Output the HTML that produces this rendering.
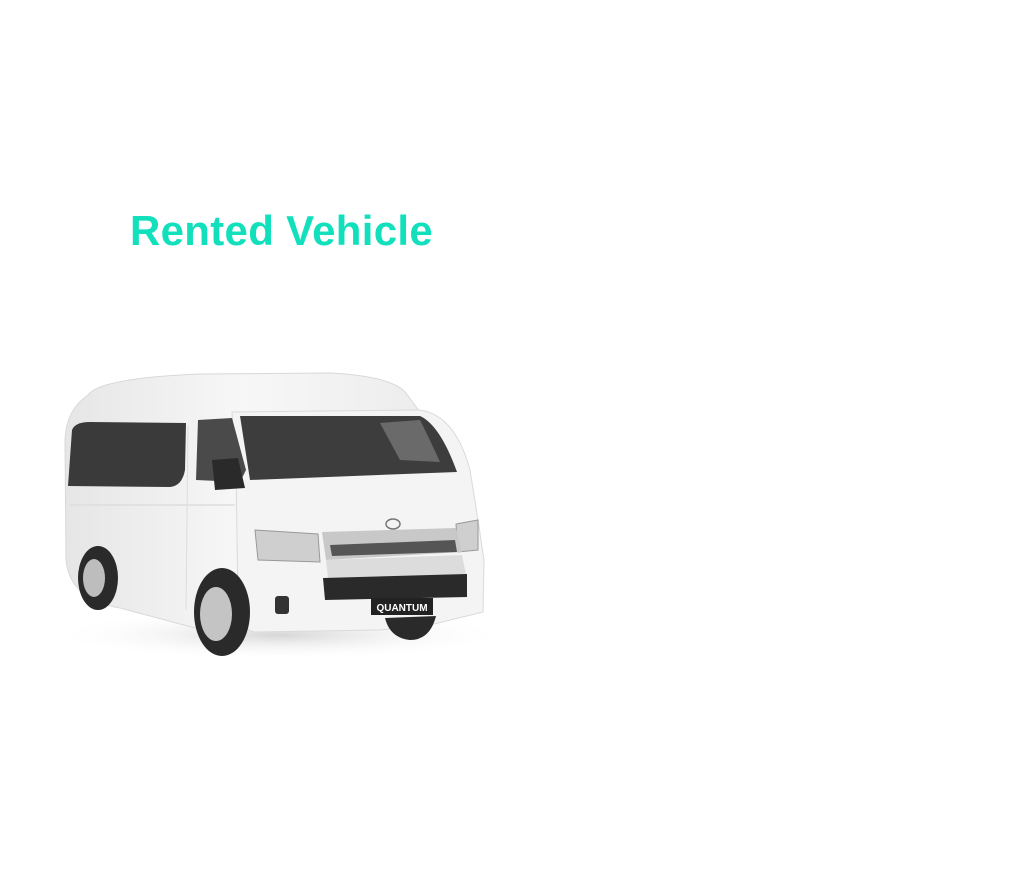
<!DOCTYPE html>
<html><head><meta charset="utf-8"><style>
html,body{margin:0;padding:0;background:#fff;width:1024px;height:881px;overflow:hidden;position:relative}
.t{position:absolute;left:130px;top:207px;font:bold 42px "Liberation Sans",sans-serif;color:#12e0bc;white-space:nowrap;letter-spacing:0.3px}
svg{position:absolute;left:0;top:0}
</style></head><body>
<div class="t">Rented Vehicle</div>
<svg width="1024" height="881" viewBox="0 0 1024 881">
<defs>
<linearGradient id="bd" x1="0" y1="0" x2="1" y2="0"><stop offset="0" stop-color="#e6e6e6"/><stop offset="0.5" stop-color="#f7f7f7"/><stop offset="1" stop-color="#ededed"/></linearGradient>
<radialGradient id="sh" cx="0.5" cy="0.5" r="0.5"><stop offset="0" stop-color="#bbb" stop-opacity="0.6"/><stop offset="1" stop-color="#fff" stop-opacity="0"/></radialGradient>
</defs>
<ellipse cx="280" cy="635" rx="230" ry="25" fill="url(#sh)"/>
<path d="M88,395 Q100,378 200,374 L330,373 Q390,376 405,392 L420,412 L250,420 L240,640 L120,608 Q70,600 66,560 L65,440 Q66,410 88,395 Z" fill="url(#bd)" stroke="#d8d8d8"/>
<path d="M232,412 L420,410 Q455,415 470,470 L478,520 L484,560 L483,612 L430,625 L380,630 L255,632 Q240,630 238,600 L236,470 Z" fill="#f4f4f4" stroke="#dadada"/>
<path d="M72,430 Q75,422 90,422 L186,423 L185,470 Q182,486 170,487 L68,486 Z" fill="#3a3a3a"/>
<path d="M198,420 L232,418 L246,470 L240,482 L196,480 Z" fill="#4a4a4a"/>
<path d="M240,416 L420,416 Q440,425 457,472 L250,480 Z" fill="#3d3d3d"/>
<path d="M380,423 L420,420 Q430,440 440,462 L400,460 Z" fill="#6a6a6a"/>
<path d="M212,460 L238,458 L245,488 L215,490 Z" fill="#2a2a2a"/>
<path d="M255,530 L318,534 L320,562 L258,560 Z" fill="#cfcfcf" stroke="#999"/>
<path d="M456,524 L478,520 L478,550 L458,552 Z" fill="#cfcfcf" stroke="#999"/>
<path d="M322,532 L456,528 L462,552 L326,560 Z" fill="#c8c8c8"/>
<path d="M330,545 L455,540 L457,552 L332,556 Z" fill="#555"/>
<path d="M326,560 L462,555 L466,575 L328,578 Z" fill="#dcdcdc"/>
<ellipse cx="393" cy="524" rx="7" ry="5" fill="none" stroke="#777" stroke-width="1.5"/>
<path d="M323,578 L467,574 L467,597 L325,600 Z" fill="#2a2a2a"/>
<rect x="275" y="596" width="14" height="18" rx="3" fill="#333"/>
<rect x="371" y="598" width="62" height="17" fill="#222"/>
<text x="402" y="611" font-family="Liberation Sans,sans-serif" font-weight="bold" font-size="10" fill="#fff" text-anchor="middle">QUANTUM</text>
<ellipse cx="98" cy="578" rx="20" ry="32" fill="#2a2a2a"/>
<ellipse cx="94" cy="578" rx="11" ry="19" fill="#bdbdbd"/>
<ellipse cx="222" cy="612" rx="28" ry="44" fill="#2a2a2a"/>
<ellipse cx="216" cy="614" rx="16" ry="27" fill="#c4c4c4"/>
<path d="M385,618 L436,616 Q430,640 410,640 Q390,638 385,618 Z" fill="#2a2a2a"/>
<path d="M70,505 L235,505" stroke="#ddd" stroke-width="1.5"/>
<path d="M188,425 L186,610" stroke="#ddd"/>
</svg>
</body></html>
